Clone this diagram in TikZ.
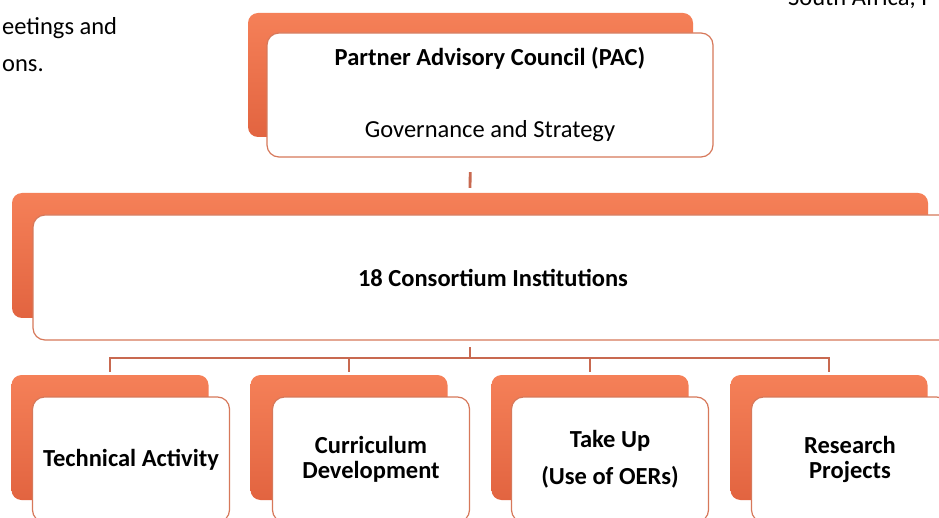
\documentclass[tikz,border=0pt]{standalone}
\usepackage{fontspec}
\setmainfont{Carlito}
\definecolor{pacorange}{RGB}{241,112,72}
\definecolor{paclight}{RGB}{245,128,88}
\definecolor{pacdark}{RGB}{226,100,64}
\definecolor{paclink}{RGB}{200,105,80}
\definecolor{pacedge}{RGB}{215,120,90}
\tikzset{
  backbox/.style={rounded corners=10pt, top color=paclight, middle color=pacorange, bottom color=pacdark, inner sep=0pt, minimum width=197pt, minimum height=125pt},
  frontbox/.style={draw=pacedge, line width=1.2pt, fill=white, rounded corners=12pt, align=center, inner sep=0pt, minimum width=197pt, minimum height=125pt, font=\bfseries\fontsize{24.5}{25}\selectfont},
  link/.style={draw=paclink, line width=2.8pt},
  bodytext/.style={font=\fontsize{24.5}{25}\selectfont, inner sep=0pt}
}
\begin{document}
\begin{tikzpicture}[x=1pt, y=-1pt]
\useasboundingbox (0,0) rectangle (939,518);
\clip (0,0) rectangle (939,518);
\fill[white] (0,0) rectangle (939,518);
% text of the page around the chart
\node[bodytext, anchor=base west] (frag1) at (2,35) {eetings and};
\node[bodytext, anchor=base west] (frag2) at (2,72) {ons.};
\node[bodytext, anchor=base west] (frag3) at (788,6) {South Africa, I};
% connectors
\coordinate (hub) at (470,358);
\node[backbox, minimum width=445pt, minimum height=124pt] (pacbg) at (470.5,75) {};
\node[backbox, minimum width=916pt] (consbg) at (470,255.5) {};
\node[backbox] (techbg) at (110,437.5) {};
\node[backbox] (currbg) at (349,437.5) {};
\node[backbox] (takebg) at (590,437.5) {};
\node[backbox] (resbg) at (829,437.5) {};
\draw[link, shorten <=35pt, shorten >=5pt] (pacbg.south) -- (consbg.north);
\draw[link, shorten <=29pt] (consbg.south) -- (hub);
\draw[link, shorten >=3pt] (hub) -| (techbg.north);
\draw[link, shorten >=3pt] (hub) -| (currbg.north);
\draw[link, shorten >=3pt] (hub) -| (takebg.north);
\draw[link, shorten >=3pt] (hub) -| (resbg.north);
% front boxes
\node[frontbox, minimum width=446pt, minimum height=124pt] (pac) at (490,95) {Partner Advisory Council (PAC)\\[47pt]{\mdseries Governance and Strategy}};
\node[frontbox, minimum width=920pt] (cons) at (493,277.5) {18 Consortium Institutions};
\node[frontbox] (tech) at (131,459.5) {Technical Activity};
\node[frontbox] (curr) at (371,459.5) {Curriculum\\Development};
\node[frontbox] (take) at (610,459.5) {Take Up\\[12pt](Use of OERs)};
\node[frontbox] (res) at (850,459.5) {Research\\Projects};
\end{tikzpicture}
\end{document}
